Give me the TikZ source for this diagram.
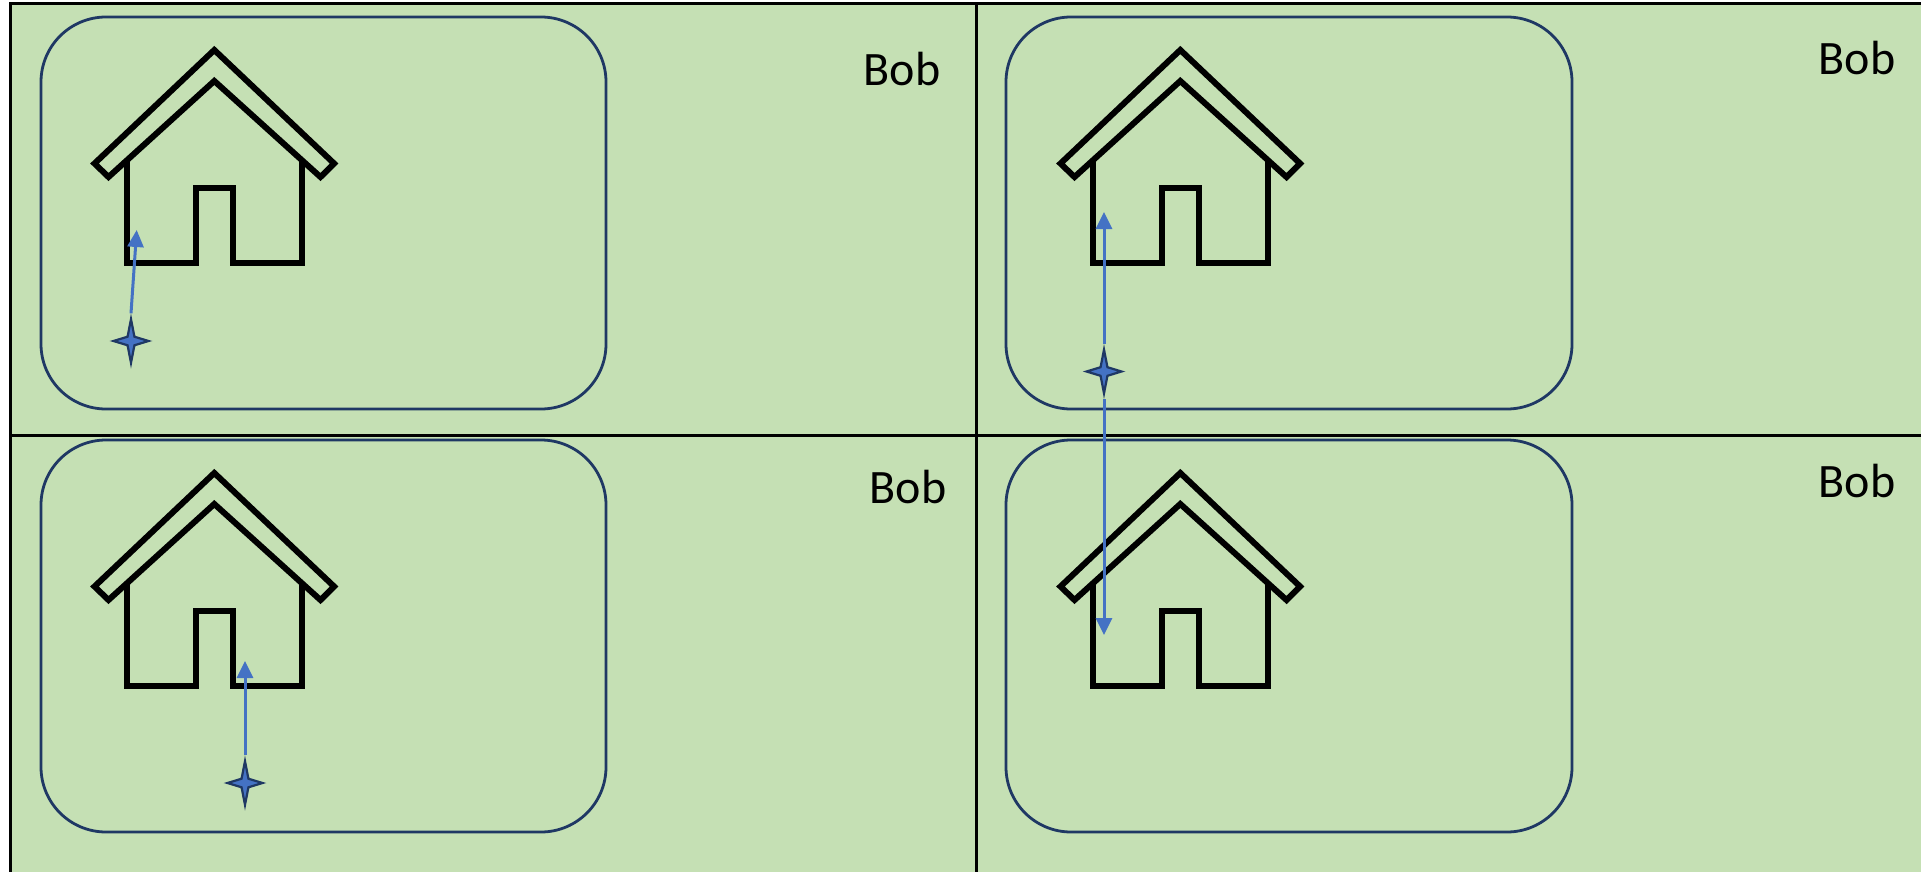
\documentclass[tikz,border=0pt]{standalone}
\usepackage{fontspec}
\setmainfont{Carlito}
\usetikzlibrary{arrows.meta,shapes.geometric}
\definecolor{panelgreen}{HTML}{C5E0B4}
\definecolor{framenavy}{HTML}{1F3864}
\definecolor{arrowblue}{HTML}{4472C4}
\tikzset{
  frameline/.style={black,line width=3pt},
  yardbox/.style={framenavy,line width=2.8pt,rounded corners=65pt},
  namelabel/.style={font=\fontsize{48}{48}\selectfont,inner sep=0pt},
  spark/.style={star,star points=4,star point ratio=3.6,draw=framenavy,fill=arrowblue,
    line width=2.2pt,inner sep=0pt,minimum size=35pt,yscale=1.25,transform shape},
  moveline/.style={arrowblue,line width=3pt,-{Triangle[length=17pt,width=16pt]}},
  house/.pic={
    \draw[black,line width=6pt,miter limit=10]
      (94.5,163.5) -- (214.3,50) -- (334.1,163.5) -- (320.5,177) -- (214.3,81) -- (108.5,177) -- cycle;
    \draw[black,line width=6pt,miter limit=10]
      (126.7,161) -- (126.7,263) -- (196,263) -- (196,188) -- (232.7,188)
      -- (232.7,263) -- (302.3,263) -- (302.3,161);
  }
}
\begin{document}
\begin{tikzpicture}[x=1pt,y=-1pt]
\useasboundingbox (0,0) rectangle (1921,872);
\fill[panelgreen] (10,4) rectangle (1921,872);
% yards
\draw[yardbox] (41,17) rectangle (606,409);
\draw[yardbox] (1006,17) rectangle (1572,409);
\draw[yardbox] (41,440) rectangle (606,832);
\draw[yardbox] (1006,440) rectangle (1572,832);
% houses
\pic at (0,0) {house};
\pic at (966,0) {house};
\pic at (0,423) {house};
\pic at (966,423) {house};
% frame
\draw[frameline] (1921,4) -- (10,4) -- (10,872);
\draw[frameline] (976,4) -- (976,872);
\draw[frameline] (10,435.5) -- (1921,435.5);
% labels
\node[namelabel] (bobA) at (902,69) {Bob};
\node[namelabel] (bobB) at (1857,58) {Bob};
\node[namelabel] (bobC) at (908,487) {Bob};
\node[namelabel] (bobD) at (1857,481) {Bob};
% stars
\node[spark] (starA) at (131,341) {};
\node[spark] (starB) at (1104,371.5) {};
\node[spark] (starC) at (245,783) {};
% arrows
\coordinate (tipA) at (136.7,230);
\coordinate (tipB) at (1104,212);
\coordinate (tipBdown) at (1104,635);
\coordinate (tipC) at (245,661);
\draw[moveline] (starA.north) -- (tipA);
\draw[moveline] (starB.north) -- (tipB);
\draw[moveline] (starB.south) -- (tipBdown);
\draw[moveline] (starC.north) -- (tipC);
\end{tikzpicture}
\end{document}
